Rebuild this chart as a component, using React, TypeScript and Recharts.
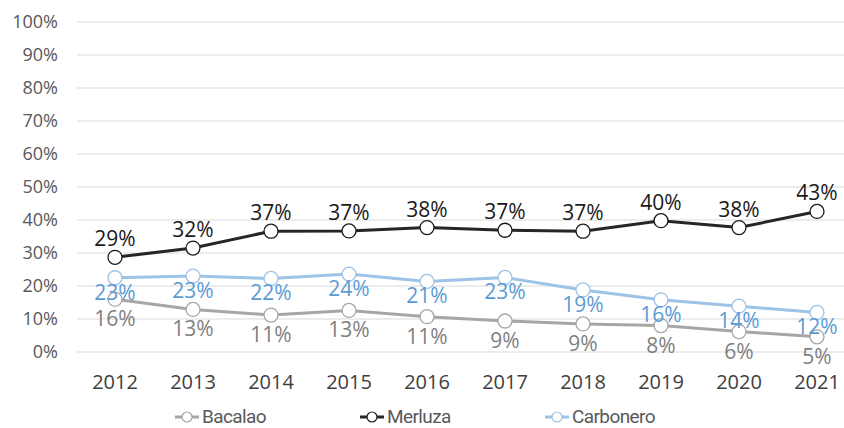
import { LineChart, Line, XAxis, YAxis, CartesianGrid, Legend, LabelList } from 'recharts';

const years = ['2012', '2013', '2014', '2015', '2016', '2017', '2018', '2019', '2020', '2021'];
const bacalao = [16.0, 12.9, 11.2, 12.6, 10.7, 9.4, 8.5, 8.0, 6.2, 4.6];
const merluza = [28.7, 31.5, 36.6, 36.7, 37.7, 36.9, 36.6, 39.8, 37.7, 42.6];
const carbonero = [22.5, 23.0, 22.3, 23.6, 21.4, 22.6, 18.8, 15.8, 13.9, 12.0];
const yTicks = [0, 10, 20, 30, 40, 50, 60, 70, 80, 90, 100];

const data = years.map((year, i) => ({
  year,
  Bacalao: bacalao[i],
  Merluza: merluza[i],
  Carbonero: carbonero[i],
}));

const series = [
  { key: 'Bacalao', stroke: '#A6A6A6', dot: '#A6A6A6', label: '#7F7F7F', dy: 19 },
  { key: 'Merluza', stroke: '#262626', dot: '#1a1a1a', label: '#1a1a1a', dy: -19 },
  { key: 'Carbonero', stroke: '#9DC3E6', dot: '#9DC3E6', label: '#5B9BD5', dy: 14 },
];

const FONT = "'Open Sans', 'Noto Sans', sans-serif";

function makeLabel(color: string, dy: number) {
  return (props: any) => {
    const { x, y, value } = props;
    return (
      <text
        x={x}
        y={y + dy}
        textAnchor="middle"
        dominantBaseline="central"
        fill={color}
        fontSize={21}
        fontFamily={FONT}
      >
        {Math.round(value)}%
      </text>
    );
  };
}

function LegendContent() {
  return (
    <div style={{ display: 'flex', paddingLeft: 175, alignItems: 'center', height: 30 }}>
      {series.map((s) => (
        <div key={s.key} style={{ display: 'flex', alignItems: 'center', width: 185 }}>
          <svg width={24} height={14}>
            <line x1={0} y1={7} x2={24} y2={7} stroke={s.stroke} strokeWidth={3} />
            <circle cx={12} cy={7} r={5} fill="#fff" stroke={s.dot} strokeWidth={1.2} />
          </svg>
          <span
            style={{
              marginLeft: 3,
              fontSize: 19,
              lineHeight: '30px',
              letterSpacing: -0.6,
              color: '#595959',
              fontFamily: "Roboto, 'Open Sans', sans-serif",
              whiteSpace: 'nowrap',
            }}
          >
            {s.key}
          </span>
        </div>
      ))}
    </div>
  );
}

export default function App() {
  return (
    <div style={{ position: 'absolute', left: 0, top: 0, background: '#fff' }}>
      <LineChart width={844} height={428} data={data} margin={{ top: 22, right: 0, left: 0, bottom: 46 }}>
        <CartesianGrid vertical={false} stroke="#d9d9d9" strokeWidth={1.2} />
        <XAxis
          dataKey="year"
          scale="point"
          padding={{ left: 38, right: 27 }}
          axisLine={false}
          tickLine={false}
          tick={{ fontSize: 20, fill: '#404040', fontFamily: FONT }}
          tickMargin={17}
        />
        <YAxis
          width={77}
          domain={[0, 100]}
          ticks={yTicks}
          axisLine={false}
          tickLine={false}
          tickMargin={13}
          tickFormatter={(v: number) => `${v}%`}
          tick={{ fontSize: 18, fill: '#595959', fontFamily: FONT }}
        />
        <Legend
          verticalAlign="middle"
          layout="horizontal"
          wrapperStyle={{ left: 0, top: 402, width: 844, height: 30 }}
          content={<LegendContent />}
        />
        {series.map((s) => (
          <Line
            key={s.key}
            dataKey={s.key}
            stroke={s.stroke}
            strokeWidth={3}
            dot={{ r: 7, fill: '#fff', stroke: s.dot, strokeWidth: 1.3 }}
            activeDot={false}
            isAnimationActive={false}
          >
            <LabelList dataKey={s.key} content={makeLabel(s.label, s.dy)} />
          </Line>
        ))}
      </LineChart>
    </div>
  );
}
